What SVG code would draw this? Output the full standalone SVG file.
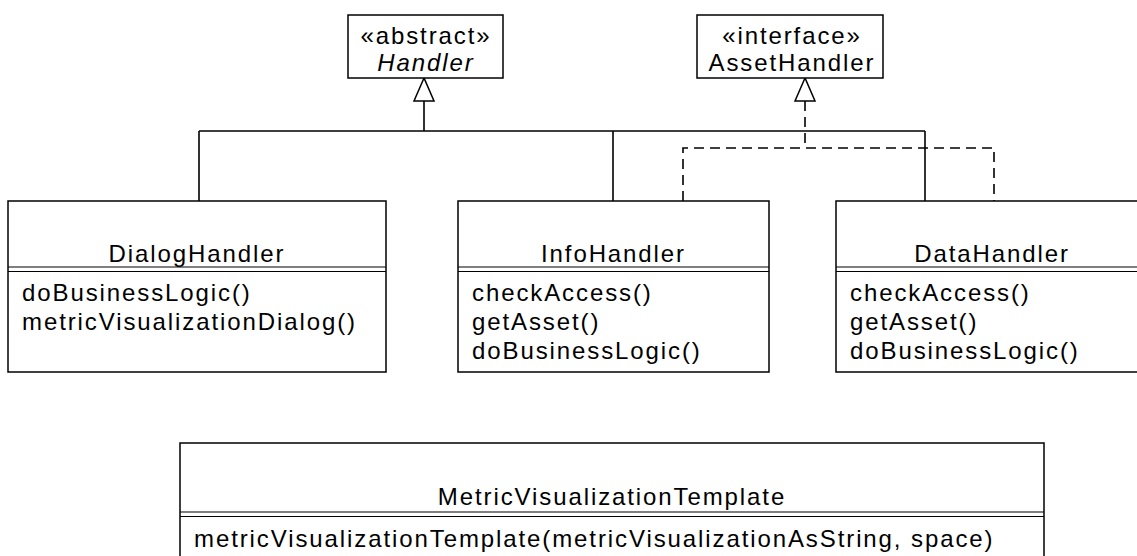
<svg xmlns="http://www.w3.org/2000/svg" width="1137" height="556" viewBox="0 0 1137 556">
<style>
.box{fill:#fff;stroke:#000;stroke-width:1.5}
.sep{stroke:#000;stroke-width:1.2;fill:none}
.t{font-family:"Liberation Sans",Arial,sans-serif;font-size:24px;letter-spacing:1.9px;fill:#000}
.c{text-anchor:middle}
.ln{stroke:#000;stroke-width:1.6;fill:none}
.dash{stroke:#000;stroke-width:1.6;fill:none;stroke-dasharray:10 6}
.tri{fill:#fff;stroke:#000;stroke-width:1.5}
</style>
<rect width="1137" height="556" fill="#fff"/>
<g id="connectors">
<path class="ln" d="M424 101 V131 M199 131 H925 M199 131 V201 M613 131 V201 M925 131 V201"/>
<path class="dash" d="M805 101 V148 M683 201 V148 H994 V201"/>
<polygon class="tri" points="424,78 414,101 434,101"/>
<polygon class="tri" points="805,78 795,101 815,101"/>
</g>
<g id="Handler">
<rect class="box" x="348" y="15" width="155" height="63"/>
<text class="t c" x="426" y="44">«abstract»</text>
<text class="t c" x="426" y="71" font-style="italic">Handler</text>
</g>
<g id="AssetHandler">
<rect class="box" x="697" y="15" width="186" height="63"/>
<text class="t c" x="792" y="44">«interface»</text>
<text class="t c" x="792" y="71">AssetHandler</text>
</g>
<g id="DialogHandler">
<rect class="box" x="8" y="201" width="378" height="171"/>
<path class="sep" d="M8 267 H386 M8 271.5 H386"/>
<text class="t c" x="197" y="262">DialogHandler</text>
<text class="t" x="22" y="301">doBusinessLogic()</text>
<text class="t" x="22" y="330">metricVisualizationDialog()</text>
</g>
<g id="InfoHandler">
<rect class="box" x="458" y="201" width="311" height="171"/>
<path class="sep" d="M458 267 H769 M458 271.5 H769"/>
<text class="t c" x="613.5" y="262">InfoHandler</text>
<text class="t" x="472" y="301">checkAccess()</text>
<text class="t" x="472" y="330">getAsset()</text>
<text class="t" x="472" y="359">doBusinessLogic()</text>
</g>
<g id="DataHandler">
<rect class="box" x="836" y="201" width="312" height="171"/>
<path class="sep" d="M836 267 H1148 M836 271.5 H1148"/>
<text class="t c" x="992" y="262">DataHandler</text>
<text class="t" x="850" y="301">checkAccess()</text>
<text class="t" x="850" y="330">getAsset()</text>
<text class="t" x="850" y="359">doBusinessLogic()</text>
</g>
<g id="MetricVisualizationTemplate">
<rect class="box" x="180" y="443" width="864" height="130"/>
<path class="sep" d="M180 512 H1044 M180 516.5 H1044"/>
<text class="t c" x="612" y="505">MetricVisualizationTemplate</text>
<text class="t" x="194" y="547">metricVisualizationTemplate(metricVisualizationAsString, space)</text>
</g>
</svg>
